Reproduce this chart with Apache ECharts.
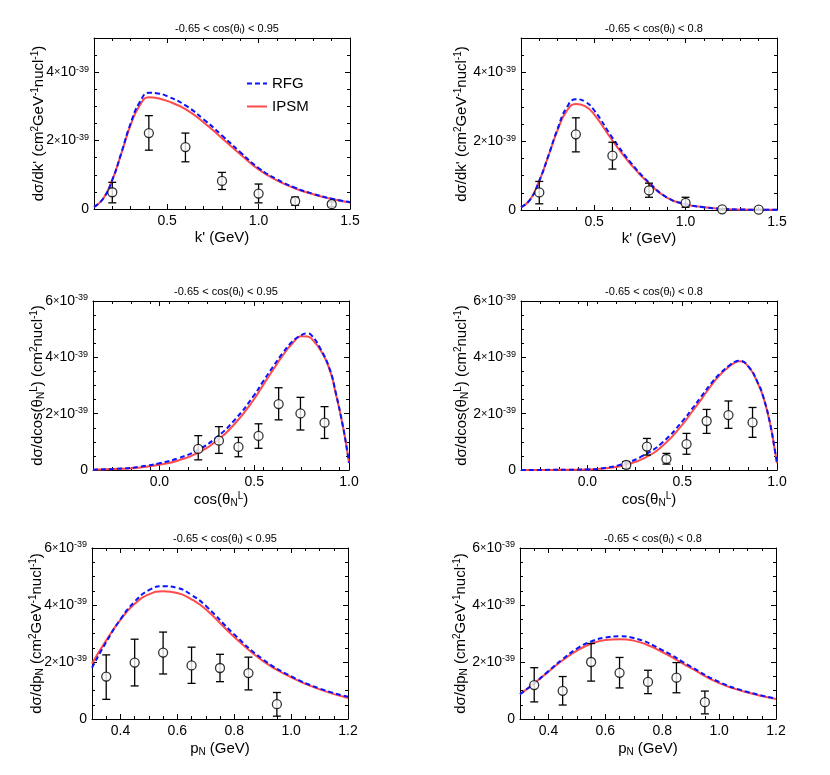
<!DOCTYPE html>
<html>
<head>
<meta charset="utf-8">
<script src="https://cdn.jsdelivr.net/npm/echarts@6/dist/echarts.min.js"></script>
<style>
html, body { margin: 0; padding: 0; background: #fff; }
#main { width: 830px; height: 775px; }
</style>
</head>
<body>
<div id="main"></div>
<script>
// theory curves: k' (GeV)
var kpX = [0.1, 0.15, 0.2, 0.25, 0.3, 0.35, 0.4, 0.45, 0.5, 0.6, 0.7, 0.8, 0.9, 1.0, 1.1, 1.2, 1.3, 1.4, 1.5];
var kpRfg95 = [0.06, 0.3, 0.85, 1.65, 2.5, 3.12, 3.4, 3.38, 3.3, 3.03, 2.62, 2.15, 1.66, 1.2, 0.87, 0.62, 0.44, 0.3, 0.2];
var kpIpsm95 = [0.06, 0.3, 0.85, 1.63, 2.45, 3.03, 3.27, 3.24, 3.16, 2.92, 2.53, 2.07, 1.6, 1.16, 0.84, 0.6, 0.43, 0.29, 0.19];
var kpRfg80 = [0.08, 0.3, 0.85, 1.58, 2.36, 2.98, 3.22, 3.15, 2.9, 2.1, 1.38, 0.8, 0.36, 0.17, 0.08, 0.03, 0.015, 0.008, 0.005];
var kpIpsm80 = [0.08, 0.3, 0.85, 1.57, 2.32, 2.88, 3.08, 3.02, 2.78, 2.02, 1.33, 0.77, 0.35, 0.16, 0.08, 0.03, 0.015, 0.008, 0.005];

// theory curves: cos(theta_N^L)
var cosX = [-0.35, -0.2, -0.1, 0.0, 0.1, 0.2, 0.3, 0.4, 0.5, 0.55, 0.6, 0.65, 0.7, 0.75, 0.78, 0.8, 0.85, 0.9, 0.93, 0.965, 0.99, 1.0];
var cosRfg95 = [0.01, 0.05, 0.12, 0.24, 0.42, 0.7, 1.15, 1.8, 2.66, 3.18, 3.67, 4.15, 4.55, 4.8, 4.85, 4.8, 4.3, 3.55, 2.75, 1.66, 0.7, 0.25];
var cosIpsm95 = [0.01, 0.04, 0.09, 0.19, 0.34, 0.6, 1.03, 1.66, 2.52, 3.05, 3.56, 4.06, 4.48, 4.75, 4.74, 4.68, 4.25, 3.52, 2.72, 1.65, 0.7, 0.25];
var cosRfg80 = [0, 0.005, 0.01, 0.02, 0.08, 0.24, 0.53, 1.0, 1.72, 2.15, 2.6, 3.05, 3.43, 3.72, 3.85, 3.88, 3.67, 3.08, 2.55, 1.6, 0.65, 0.24];
var cosIpsm80 = [0, 0.004, 0.008, 0.015, 0.06, 0.18, 0.42, 0.88, 1.6, 2.05, 2.5, 2.97, 3.38, 3.68, 3.82, 3.86, 3.66, 3.06, 2.54, 1.6, 0.65, 0.24];

// theory curves: p_N (GeV)
var pnX = [0.3, 0.35, 0.4, 0.45, 0.5, 0.55, 0.6, 0.65, 0.7, 0.8, 0.9, 1.0, 1.1, 1.2];
var pnRfg95 = [1.8, 2.7, 3.5, 4.12, 4.52, 4.66, 4.6, 4.35, 3.97, 2.97, 2.1, 1.5, 1.07, 0.78];
var pnIpsm95 = [1.95, 2.76, 3.48, 4.04, 4.37, 4.48, 4.42, 4.2, 3.85, 2.88, 2.04, 1.46, 1.04, 0.74];
var pnRfg80 = [0.87, 1.25, 1.68, 2.1, 2.47, 2.72, 2.86, 2.9, 2.84, 2.42, 1.84, 1.3, 0.95, 0.72];
var pnIpsm80 = [0.87, 1.25, 1.66, 2.06, 2.4, 2.64, 2.77, 2.8, 2.75, 2.35, 1.79, 1.26, 0.93, 0.7];

// data points (value, lower, upper) in units of 1e-39
var kpDataX = [0.2, 0.4, 0.6, 0.8, 1.0, 1.2, 1.4];
var kpData95 = [0.49, 2.22, 1.81, 0.82, 0.45, 0.23, 0.14];
var kpLo95 = [0.18, 1.72, 1.38, 0.57, 0.18, 0.11, 0.07];
var kpHi95 = [0.78, 2.73, 2.22, 1.07, 0.73, 0.35, 0.21];
var kpData80 = [0.51, 2.2, 1.58, 0.57, 0.21, 0.02, 0.01];
var kpLo80 = [0.18, 1.69, 1.19, 0.37, 0.08, 0.0, 0.0];
var kpHi80 = [0.83, 2.68, 1.97, 0.78, 0.37, 0.04, 0.02];

var cosDataX = [0.205, 0.314, 0.417, 0.523, 0.629, 0.744, 0.871];
var cosData95 = [0.75, 1.04, 0.82, 1.21, 2.34, 2.01, 1.68];
var cosLo95 = [0.36, 0.59, 0.47, 0.77, 1.78, 1.42, 1.12];
var cosHi95 = [1.22, 1.54, 1.16, 1.64, 2.92, 2.58, 2.25];
var cosData80 = [0.18, 0.83, 0.39, 0.92, 1.74, 1.95, 1.69];
var cosLo80 = [0.06, 0.53, 0.21, 0.56, 1.3, 1.48, 1.16];
var cosHi80 = [0.3, 1.12, 0.59, 1.3, 2.15, 2.45, 2.22];

var pnDataX = [0.35, 0.45, 0.55, 0.65, 0.75, 0.85, 0.95];
var pnData95 = [1.49, 1.98, 2.33, 1.88, 1.79, 1.61, 0.52];
var pnLo95 = [0.69, 1.16, 1.58, 1.25, 1.31, 1.02, 0.1];
var pnHi95 = [2.25, 2.8, 3.05, 2.52, 2.27, 2.17, 0.93];
var pnData80 = [1.19, 0.99, 2.0, 1.62, 1.3, 1.45, 0.59];
var pnLo80 = [0.6, 0.49, 1.33, 1.09, 0.89, 0.92, 0.18];
var pnHi80 = [1.8, 1.49, 2.65, 2.16, 1.71, 1.98, 0.98];

// tick labels
var kpTicks = [0.5, 1.0, 1.5];
var cosTicks = [0.0, 0.5, 1.0];
var pnTicks = [0.4, 0.6, 0.8, 1.0, 1.2];
var yTicks5 = [0, 2, 4];
var yTicks6 = [0, 2, 4, 6];

var FONT = 'Liberation Sans, Arial, Helvetica, sans-serif';
var BLUE = '#0a14ff';
var RED = '#ff4b4b';

var supRich = {
  n: { fontSize: 14, fontFamily: FONT, color: '#000' },
  t: { fontSize: 11, fontFamily: FONT, color: '#000' },
  s: { fontSize: 9, fontFamily: FONT, color: '#000', verticalAlign: 'top', padding: [0, 0, 6, 0] }
};
var nameRich = {
  a: { fontSize: 15, fontFamily: FONT, color: '#000' },
  p: { fontSize: 10, fontFamily: FONT, color: '#000', padding: [0, 0, 8, 0] },
  b: { fontSize: 10, fontFamily: FONT, color: '#000', padding: [7, 0, 0, 0] }
};
var titleRich = {
  a: { fontSize: 11, fontFamily: FONT, color: '#000', fontWeight: 'normal' },
  b: { fontSize: 8, fontFamily: FONT, color: '#000', fontWeight: 'normal', padding: [5, 0, 0, 0] }
};

var titleText95 = '{a|-0.65 < cos(θ}{b|l}{a|) < 0.95}';
var titleText80 = '{a|-0.65 < cos(θ}{b|l}{a|) < 0.8}';

var panels = [
  { left: 94, top: 38, height: 171, xMin: 0.1, xMax: 1.5, xMinor: 0.1, xTicks: kpTicks, yMax: 5, yTicks: yTicks5,
    title: titleText95, xName: "{a|k' (GeV)}", yName: "{a|dσ/dk' (cm}{p|2}{a|GeV}{p|-1}{a|nucl}{p|-1}{a|)}",
    cx: kpX, rfg: kpRfg95, ipsm: kpIpsm95, dx: kpDataX, dy: kpData95, lo: kpLo95, hi: kpHi95 },
  { left: 521, top: 38, height: 172, xMin: 0.1, xMax: 1.5, xMinor: 0.1, xTicks: kpTicks, yMax: 5, yTicks: yTicks5,
    title: titleText80, xName: "{a|k' (GeV)}", yName: "{a|dσ/dk' (cm}{p|2}{a|GeV}{p|-1}{a|nucl}{p|-1}{a|)}",
    cx: kpX, rfg: kpRfg80, ipsm: kpIpsm80, dx: kpDataX, dy: kpData80, lo: kpLo80, hi: kpHi80 },
  { left: 93, top: 301, height: 169, xMin: -0.35, xMax: 1.0, xMinor: 0.1, xTicks: cosTicks, yMax: 6, yTicks: yTicks6,
    title: titleText95, xName: '{a|cos(θ}{b|N}{p|L}{a|)}', yName: '{a|dσ/dcos(θ}{b|N}{p|L}{a|) (cm}{p|2}{a|nucl}{p|-1}{a|)}',
    cx: cosX, rfg: cosRfg95, ipsm: cosIpsm95, dx: cosDataX, dy: cosData95, lo: cosLo95, hi: cosHi95 },
  { left: 521, top: 301, height: 169, xMin: -0.35, xMax: 1.0, xMinor: 0.1, xTicks: cosTicks, yMax: 6, yTicks: yTicks6,
    title: titleText80, xName: '{a|cos(θ}{b|N}{p|L}{a|)}', yName: '{a|dσ/dcos(θ}{b|N}{p|L}{a|) (cm}{p|2}{a|nucl}{p|-1}{a|)}',
    cx: cosX, rfg: cosRfg80, ipsm: cosIpsm80, dx: cosDataX, dy: cosData80, lo: cosLo80, hi: cosHi80 },
  { left: 92, top: 548, height: 171, xMin: 0.3, xMax: 1.2, xMinor: 0.05, xTicks: pnTicks, yMax: 6, yTicks: yTicks6,
    title: titleText95, xName: '{a|p}{b|N}{a| (GeV)}', yName: '{a|dσ/dp}{b|N}{a| (cm}{p|2}{a|GeV}{p|-1}{a|nucl}{p|-1}{a|)}',
    cx: pnX, rfg: pnRfg95, ipsm: pnIpsm95, dx: pnDataX, dy: pnData95, lo: pnLo95, hi: pnHi95 },
  { left: 520, top: 548, height: 171, xMin: 0.3, xMax: 1.2, xMinor: 0.05, xTicks: pnTicks, yMax: 6, yTicks: yTicks6,
    title: titleText80, xName: '{a|p}{b|N}{a| (GeV)}', yName: '{a|dσ/dp}{b|N}{a| (cm}{p|2}{a|GeV}{p|-1}{a|nucl}{p|-1}{a|)}',
    cx: pnX, rfg: pnRfg80, ipsm: pnIpsm80, dx: pnDataX, dy: pnData80, lo: pnLo80, hi: pnHi80 }
];

function zip(a, b) {
  return a.map(function (v, i) { return [v, b[i]]; });
}

function yLabel(v) {
  if (v === 0) return '{n|0}';
  return '{n|' + v + '}{t|×}{n|10}{s|-39}';
}

var grids = [], xAxes = [], yAxes = [], titles = [], series = [];
var line = { show: true, onZero: false, lineStyle: { color: '#000', width: 1 } };

panels.forEach(function (p, i) {
  var width = 256;
  var isRight = p.left > 400;
  grids.push({ left: p.left, top: p.top, width: width, height: p.height, containLabel: false, outerBoundsMode: 'none' });
  titles.push({
    text: p.title, left: p.left + width / 2, top: p.top - 21, textAlign: 'center',
    textStyle: { fontWeight: 'normal', fontSize: 11, rich: titleRich }
  });
  // x axes: bottom major, bottom minor, top major, top minor
  ['bottom', 'top'].forEach(function (pos) {
    xAxes.push({
      gridIndex: i, type: 'value', position: pos, min: p.xMin, max: p.xMax,
      axisLine: line, splitLine: { show: false },
      axisTick: { inside: true, length: 5, customValues: p.xTicks, lineStyle: { color: '#000' } },
      axisLabel: pos === 'bottom' ? {
        customValues: p.xTicks, fontSize: 14, fontFamily: FONT, color: '#000', margin: 5,
        formatter: function (v) { return v.toFixed(1); }
      } : { show: false },
      name: pos === 'bottom' ? p.xName : '', nameLocation: 'middle', nameGap: 21, nameMoveOverlap: false,
      nameTextStyle: { rich: nameRich }
    });
    xAxes.push({
      gridIndex: i, type: 'value', position: pos, min: p.xMin, max: p.xMax, interval: p.xMinor,
      axisLine: { show: false, onZero: false }, splitLine: { show: false }, axisLabel: { show: false },
      axisTick: { inside: true, length: 3, lineStyle: { color: '#000' } }
    });
  });
  ['left', 'right'].forEach(function (pos) {
    yAxes.push({
      gridIndex: i, type: 'value', position: pos, min: 0, max: p.yMax,
      axisLine: line, splitLine: { show: false },
      axisTick: { inside: true, length: 5, customValues: p.yTicks, lineStyle: { color: '#000' } },
      axisLabel: pos === 'left' ? {
        customValues: p.yTicks, margin: 5, formatter: yLabel, rich: supRich
      } : { show: false },
      name: pos === 'left' ? p.yName : '', nameLocation: 'middle', nameGap: isRight ? 50 : 46,
      nameMoveOverlap: false,
      nameTextStyle: { rich: nameRich }
    });
    yAxes.push({
      gridIndex: i, type: 'value', position: pos, min: 0, max: p.yMax, interval: 0.5,
      axisLine: { show: false, onZero: false }, splitLine: { show: false }, axisLabel: { show: false },
      axisTick: { inside: true, length: 3, lineStyle: { color: '#000' } }
    });
  });

  var xi = i * 4, yi = i * 4;
  series.push({
    name: 'IPSM', type: 'line', xAxisIndex: xi, yAxisIndex: yi, data: zip(p.cx, p.ipsm),
    symbol: 'none', smooth: 0.5, lineStyle: { color: RED, width: 2 }, itemStyle: { color: RED }, z: 3
  });
  series.push({
    name: 'RFG', type: 'line', xAxisIndex: xi, yAxisIndex: yi, data: zip(p.cx, p.rfg),
    symbol: 'none', smooth: 0.5, lineStyle: { color: BLUE, width: 2, type: [5, 3] }, itemStyle: { color: BLUE }, z: 4
  });
  series.push({
    type: 'custom', xAxisIndex: xi, yAxisIndex: yi, z: 5,
    data: p.dx.map(function (x, k) { return [x, p.lo[k], p.hi[k]]; }),
    encode: { x: 0, y: [1, 2] },
    renderItem: function (params, api) {
      var top = api.coord([api.value(0), api.value(2)]);
      var bot = api.coord([api.value(0), api.value(1)]);
      var st = { stroke: '#000', lineWidth: 1.3 };
      return {
        type: 'group', children: [
          { type: 'line', shape: { x1: top[0], y1: top[1], x2: bot[0], y2: bot[1] }, style: st },
          { type: 'line', shape: { x1: top[0] - 4, y1: top[1], x2: top[0] + 4, y2: top[1] }, style: st },
          { type: 'line', shape: { x1: bot[0] - 4, y1: bot[1], x2: bot[0] + 4, y2: bot[1] }, style: st }
        ]
      };
    }
  });
  series.push({
    type: 'scatter', xAxisIndex: xi, yAxisIndex: yi, z: 6, data: zip(p.dx, p.dy),
    symbol: 'circle', symbolSize: 9,
    itemStyle: { color: '#fff', borderColor: '#000', borderWidth: 1.3 }
  });
});

var chart = echarts.init(document.getElementById('main'), null, { renderer: 'canvas' });
chart.setOption({
  animation: false,
  backgroundColor: '#fff',
  title: titles,
  legend: {
    data: ['RFG', 'IPSM'], orient: 'vertical', left: 241, top: 71,
    itemWidth: 20, itemHeight: 10, itemGap: 8,
    itemStyle: { opacity: 0 },
    textStyle: { fontSize: 15, fontFamily: FONT, color: '#000' }
  },
  grid: grids,
  xAxis: xAxes,
  yAxis: yAxes,
  series: series
});
</script>
</body>
</html>
